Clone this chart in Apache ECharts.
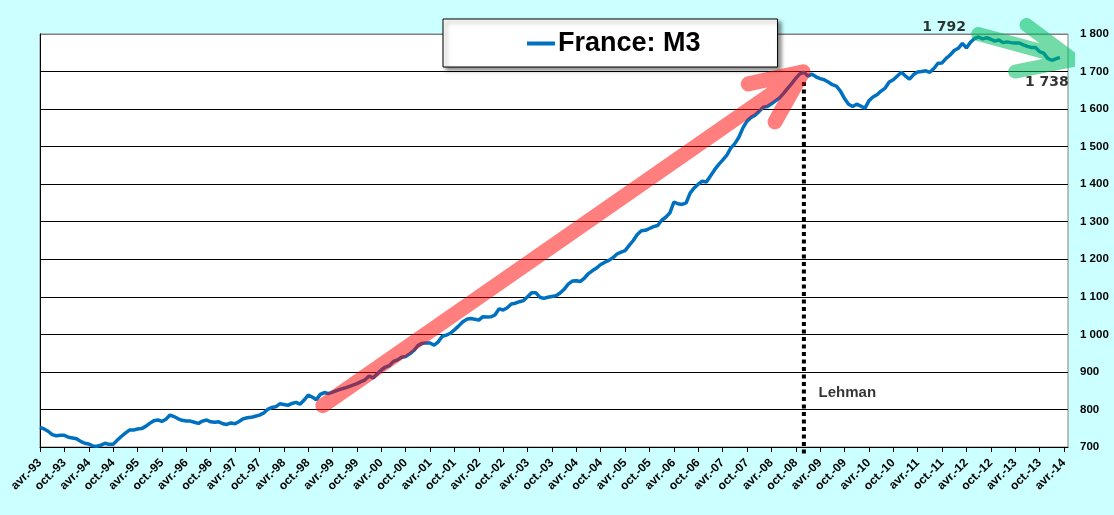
<!DOCTYPE html>
<html>
<head>
<meta charset="utf-8">
<script src="https://cdn.jsdelivr.net/npm/echarts@6/dist/echarts.min.js"></script>
<style>
html,body{margin:0;padding:0;background:#CCFFFF;}
#chart{width:1114px;height:515px;}
</style>
</head>
<body>
<div id="chart"></div>
<script>
// Month names (French, Excel style) used to build the category labels
const monthNames = ['janv.','févr.','mars','avr.','mai','juin','juil.','août','sept.','oct.','nov.','déc.'];
const startYear = 1993, startMonth = 3, nCategories = 254; // avr.-93 .. mai-14

// France M3, monthly (billions EUR), avr.-93 .. déc.-98
const m3_1993_1998 = [752,748,742,733,730,731,731,726,724,722,
  715,710,708,703,702,705,710,707,707,718,
  728,737,745,745,748,749,755,763,770,772,
  768,774,785,781,775,771,769,769,766,763,
  769,772,767,766,767,762,760,764,762,768,
  775,778,779,782,785,790,800,805,807,815,
  813,811,816,819,814,825,838,833,826];
// janv.-99 .. déc.-03
const m3_1999_2003 = [840,845,842,846,850,854,857,861,865,869,
  874,879,889,884,895,905,913,917,928,932,
  939,941,948,957,970,976,977,977,971,980,
  995,998,1003,1012,1022,1033,1040,1042,1040,1038,
  1047,1046,1047,1052,1068,1065,1071,1081,1083,1087,
  1090,1100,1111,1111,1099,1096,1099,1101,1103,1110];
// janv.-04 .. déc.-08
const m3_2004_2008 = [1120,1134,1142,1143,1141,1150,1162,1170,1177,1186,
  1192,1197,1204,1214,1219,1223,1237,1250,1266,1276,
  1277,1282,1287,1290,1304,1312,1323,1352,1348,1346,
  1350,1376,1390,1400,1408,1406,1422,1438,1452,1464,
  1477,1496,1508,1525,1550,1568,1578,1584,1594,1605,
  1607,1614,1622,1630,1642,1655,1668,1682,1694,1698];
// janv.-09 .. déc.-13
const m3_2009_2013 = [1688,1693,1686,1681,1678,1672,1665,1661,1648,1628,
  1613,1607,1613,1608,1602,1622,1632,1638,1648,1656,
  1672,1678,1688,1698,1688,1680,1692,1699,1700,1702,
  1698,1708,1722,1723,1735,1744,1756,1762,1775,1763,
  1778,1788,1792,1787,1790,1786,1781,1784,1777,1779,
  1777,1776,1776,1771,1767,1764,1764,1753,1749,1735];
// janv.-14 .. mars-14
const m3_2014 = [1730,1734,1738];

// Y axis ticks
const yMin = 700, yMax = 1800, yStep = 100;
const labelEvery = 6; // one x label every 6 months (avr. / oct.)

// Annotations (month index, value)
const lehmanIndex = 188;
const redArrow = [[69.6,810],[187.8,1699],[174.3,1667],[187.8,1699],[180.9,1566]];
const greenArrow = [[230.9,1800],[254.3,1731],[242.8,1824],[254.3,1731],[240,1700]];
const textNotes = [
  {name:'Lehman', pos:[191.5,845], align:'left', size:15, family:'Liberation Sans'},
  {name:'1 792', pos:[222.5,1818], align:'center', size:14, family:'DejaVu Sans'},
  {name:'1 738', pos:[247.8,1670], align:'center', size:14, family:'DejaVu Sans'}
];

const categories = [];
for (let i = 0; i < nCategories; i++) {
  const m = (startMonth + i) % 12;
  const y = startYear + Math.floor((startMonth + i) / 12);
  categories.push(monthNames[m] + '-' + String(y % 100).padStart(2,'0'));
}
const m3 = [].concat(m3_1993_1998, m3_1999_2003, m3_2004_2008, m3_2009_2013, m3_2014);

function fmtY(v){
  if (v >= 1000) return Math.floor(v/1000) + ' ' + String(v % 1000).padStart(3,'0');
  return String(v);
}

const splitColors = [];
for (let v = yMin; v <= yMax; v += yStep) splitColors.push(v === yMax ? '#808080' : '#000000');

const chart = echarts.init(document.getElementById('chart'), null, {renderer:'canvas'});
const axisFont = 'Liberation Sans';
chart.setOption({
  animation:false,
  backgroundColor:'#CCFFFF',
  grid:{left:40,right:46,top:34,bottom:68,show:true,backgroundColor:'#ffffff',borderColor:'#808080',borderWidth:1,outerBoundsMode:'none'},
  legend:{
    data:['France: M3'],
    left:443, top:19,
    padding:[11,77,10,84],
    backgroundColor:'#ffffff',
    borderColor:'#000000', borderWidth:1,
    shadowBlur:4, shadowOffsetX:3, shadowOffsetY:3, shadowColor:'rgba(0,0,0,0.45)',
    icon:'rect', itemWidth:28, itemHeight:4,
    textStyle:{fontFamily:'Liberation Sans',fontWeight:'bold',fontSize:27,color:'#000',padding:[0,0,0,-2]},
    selectedMode:false
  },
  xAxis:[{
    type:'category', data:categories, boundaryGap:false,
    axisLine:{lineStyle:{color:'#000',width:1}},
    axisTick:{interval:(i)=>i % labelEvery === 0,length:5,lineStyle:{color:'#000'}},
    axisLabel:{interval:(i)=>i % labelEvery === 0,rotate:45,fontFamily:axisFont,fontWeight:'bold',fontSize:12,color:'#000',margin:14},
    splitLine:{show:false}
  },{
    type:'value', min:0, max:nCategories-1, show:false
  }],
  yAxis:[{
    type:'value', position:'right', min:yMin, max:yMax, interval:yStep,
    axisLine:{show:true,lineStyle:{color:'#808080'}},
    axisTick:{show:false},
    axisLabel:{formatter:fmtY,fontFamily:axisFont,fontWeight:'bold',fontSize:11.5,color:'#000',margin:12},
    splitLine:{show:true,lineStyle:{color:splitColors,width:1}}
  },{
    type:'value', position:'left', min:yMin, max:yMax, interval:yStep,
    axisLine:{show:true,lineStyle:{color:'#000'}},
    axisTick:{show:false}, axisLabel:{show:false}, splitLine:{show:false}
  }],
  series:[
    {
      name:'France: M3', type:'line', data:m3, symbol:'none',
      lineStyle:{color:'#0070C0',width:3.5}, itemStyle:{color:'#0070C0'}, z:3
    },
    {
      name:'lehman', type:'line', xAxisIndex:1, yAxisIndex:0, symbol:'none', clip:false,
      data:[[lehmanIndex,1672],[lehmanIndex,683]],
      lineStyle:{color:'#000',width:4,type:[4,3.5]}, z:4, silent:true
    },
    {
      name:'red', type:'line', xAxisIndex:1, yAxisIndex:0, symbol:'none', clip:false,
      data:redArrow,
      lineStyle:{color:'rgba(255,0,0,0.5)',width:15,cap:'round',join:'round'}, z:5, silent:true
    },
    {
      name:'green', type:'line', xAxisIndex:1, yAxisIndex:0, symbol:'none', clip:false,
      data:greenArrow,
      lineStyle:{color:'rgba(0,190,95,0.55)',width:14,cap:'round',join:'round'}, z:5, silent:true
    },
    {
      name:'notes', type:'scatter', xAxisIndex:1, yAxisIndex:0, clip:false, silent:true,
      symbolSize:1, itemStyle:{color:'rgba(0,0,0,0)'},
      data:textNotes.map(t=>({value:t.pos,name:t.name,label:{align:t.align,position:t.align==='left'?'right':'inside',fontSize:t.size,fontFamily:t.family,distance:0}})),
      label:{show:true,formatter:p=>p.name,fontWeight:'bold',color:'#000'},
      z:6
    }
  ]
});
</script>
</body>
</html>
